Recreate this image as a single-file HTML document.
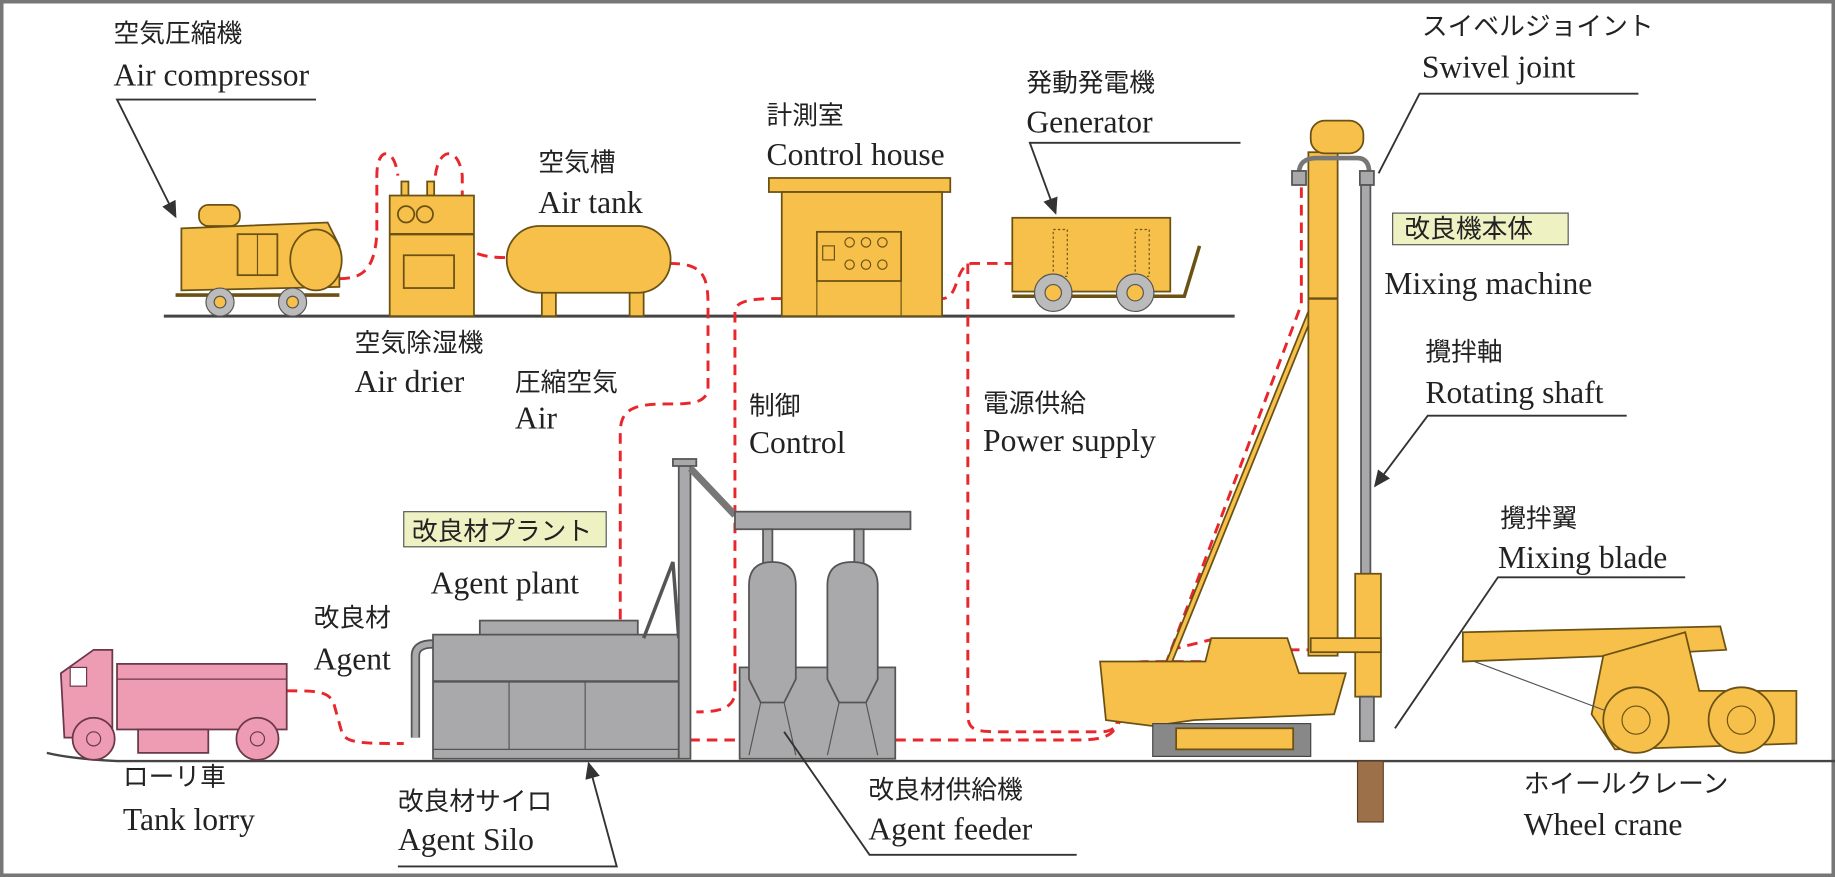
<!DOCTYPE html>
<html><head><meta charset="utf-8"><style>
html,body{margin:0;padding:0;background:#fff;}
svg{display:block;}
.j{font-family:"Liberation Sans","Noto Sans CJK JP",sans-serif;font-size:22px;fill:#222;}
.e{font-family:"Liberation Serif","Noto Serif CJK SC",serif;font-size:27px;fill:#222;}
.y{fill:#f6c04a;stroke:#6b5214;stroke-width:1.5;}
.g{fill:#a9a9ab;stroke:#555;stroke-width:1.5;}
.p{fill:#ee9bb4;stroke:#6a3848;stroke-width:1.5;}
.r{fill:none;stroke:#e8262b;stroke-width:2.5;stroke-dasharray:9 6;}
.l{fill:none;stroke:#333;stroke-width:1.6;}
</style></head><body>
<svg width="1835" height="877" viewBox="0 0 1568 749" preserveAspectRatio="none" xmlns="http://www.w3.org/2000/svg">
<defs><marker id="a" markerWidth="10" markerHeight="10" refX="8" refY="5" orient="auto"><path d="M0,1 L9,5 L0,9 z" fill="#333"/></marker></defs>
<rect x="1.5" y="1.5" width="1565" height="746" fill="#fff" stroke="#777" stroke-width="3"/>
<line x1="140" y1="270" x2="1055" y2="270" stroke="#444" stroke-width="2.5"/>
<path d="M40,643 Q60,648 100,650 L1568,650" stroke="#444" stroke-width="2" fill="none"/>
<path class="r" d="M290,238 C310,238 320,230 322,200 L322,150 C322,125 337,125 340,150"/>
<path class="r" d="M372,150 C375,125 392,125 395,150 L395,200 C395,215 410,220 433,220"/>
<path class="r" d="M572,225 C600,225 605,235 605,260 L605,330 C605,345 590,345 570,345 C540,345 530,350 530,370 L530,620 C530,630 540,632 560,632 L632,632"/>
<path class="r" d="M668,255 C650,255 630,255 628,265 L628,590 C628,605 615,608 595,608"/>
<path class="r" d="M770,255 L805,255 C820,255 815,228 830,225 L865,225"/>
<path class="r" d="M827,225 L827,610 C827,625 835,625 860,625 L940,625 C955,625 960,615 960,600 L960,580 C960,570 965,565 980,565 L1040,565"/>
<path class="r" d="M765,632 L920,632 C950,632 955,625 955,610"/>
<path class="r" d="M1112,160 L1112,260 L980,610"/>
<path class="r" d="M1000,555 L1040,545 L1060,555 L1120,555 L1170,545"/>
<path class="r" d="M245,590 C270,590 280,590 285,600 L292,625 C295,635 310,635 345,635"/>
<rect class="y" x="170" y="175" width="35" height="18" rx="8"/>
<path class="y" d="M155,195 L280,190 L290,210 L290,245 L155,248 Z"/>
<ellipse class="y" cx="270" cy="222" rx="22" ry="26"/>
<rect x="203" y="200" width="34" height="35" fill="#f6c04a" stroke="#6b5214" stroke-width="1.5"/>
<line x1="220" y1="200" x2="220" y2="235" stroke="#6b5214"/>
<line x1="150" y1="252" x2="290" y2="252" stroke="#6b5214" stroke-width="3"/>
<circle cx="188" cy="258" r="12" fill="#bbb" stroke="#555"/><circle cx="188" cy="258" r="5" fill="#f6c04a" stroke="#555"/>
<circle cx="250" cy="258" r="12" fill="#bbb" stroke="#555"/><circle cx="250" cy="258" r="5" fill="#f6c04a" stroke="#555"/>
<rect class="y" x="343" y="155" width="6" height="12"/><rect class="y" x="365" y="155" width="6" height="12"/>
<rect class="y" x="333" y="167" width="72" height="103"/>
<line x1="333" y1="200" x2="405" y2="200" stroke="#6b5214" stroke-width="2"/>
<circle cx="347" cy="183" r="7" fill="none" stroke="#6b5214" stroke-width="1.5"/><circle cx="363" cy="183" r="7" fill="none" stroke="#6b5214" stroke-width="1.5"/>
<rect x="345" y="218" width="43" height="28" fill="none" stroke="#6b5214" stroke-width="1.5"/>
<rect class="y" x="463" y="245" width="12" height="25"/><rect class="y" x="538" y="245" width="12" height="25"/>
<rect class="y" x="433" y="193" width="140" height="57" rx="28"/>
<rect class="y" x="657" y="152" width="155" height="12"/>
<rect class="y" x="668" y="164" width="137" height="106"/>
<rect x="698" y="198" width="72" height="42" fill="#f6c04a" stroke="#6b5214" stroke-width="1.5"/>
<rect x="703" y="210" width="10" height="12" fill="none" stroke="#6b5214"/>
<g fill="none" stroke="#6b5214"><circle cx="726" cy="207" r="4"/><circle cx="740" cy="207" r="4"/><circle cx="754" cy="207" r="4"/><circle cx="726" cy="226" r="4"/><circle cx="740" cy="226" r="4"/><circle cx="754" cy="226" r="4"/></g>
<line x1="698" y1="240" x2="698" y2="270" stroke="#6b5214"/><line x1="770" y1="240" x2="770" y2="270" stroke="#6b5214"/>
<rect class="y" x="865" y="186" width="135" height="63"/>
<rect x="900" y="196" width="12" height="40" fill="none" stroke="#6b5214" stroke-dasharray="2 2"/>
<rect x="970" y="196" width="12" height="40" fill="none" stroke="#6b5214" stroke-dasharray="2 2"/>
<path d="M865,253 L1012,253 L1025,210" stroke="#6b5214" stroke-width="3" fill="none"/>
<circle cx="900" cy="250" r="16" fill="#bbb" stroke="#555"/><circle cx="900" cy="250" r="7" fill="#f6c04a" stroke="#555"/>
<circle cx="970" cy="250" r="16" fill="#bbb" stroke="#555"/><circle cx="970" cy="250" r="7" fill="#f6c04a" stroke="#555"/>
<line x1="1122" y1="262" x2="985" y2="600" stroke="#6b5214" stroke-width="6"/>
<line x1="1122" y1="262" x2="985" y2="600" stroke="#f6c04a" stroke-width="3"/>
<rect class="y" x="1118" y="130" width="25" height="430"/>
<line x1="1118" y1="255" x2="1143" y2="255" stroke="#6b5214" stroke-width="2"/>
<rect class="y" x="1120" y="103" width="45" height="28" rx="12"/>
<path d="M1110,148 Q1110,135 1125,135 L1160,135 Q1170,135 1170,148" stroke="#777" stroke-width="4" fill="none"/>
<rect class="g" x="1104" y="146" width="12" height="12"/><rect class="g" x="1162" y="146" width="12" height="12"/>
<rect class="g" x="1163" y="158" width="8" height="335"/>
<rect class="y" x="1158" y="490" width="22" height="105"/>
<rect class="y" x="1120" y="545" width="60" height="12"/>
<path class="y" d="M940,565 L1030,565 L1035,545 L1100,545 L1110,575 L1150,575 L1140,610 L1020,615 L985,620 L945,615 Z"/>
<rect x="985" y="618" width="135" height="28" fill="#888" stroke="#444"/>
<rect class="y" x="1005" y="622" width="100" height="18"/>
<rect class="g" x="1162" y="595" width="12" height="38"/>
<rect x="1160" y="650" width="22" height="52" fill="#9c7048" stroke="#5c3d22"/>
<path class="y" d="M1250,540 L1470,535 L1475,555 L1380,560 L1250,565 Z"/>
<path class="y" d="M1370,560 L1440,540 L1452,590 L1535,590 L1535,635 L1380,640 L1360,610 Z"/>
<line x1="1260" y1="565" x2="1380" y2="610" stroke="#555"/>
<circle cx="1398" cy="615" r="28" class="y"/><circle cx="1398" cy="615" r="12" fill="none" stroke="#6b5214"/>
<circle cx="1488" cy="615" r="28" class="y"/><circle cx="1488" cy="615" r="12" fill="none" stroke="#6b5214"/>
<path class="p" d="M52,575 L80,555 L96,555 L96,630 L55,630 Z"/>
<rect x="60" y="570" width="14" height="16" fill="#fff" stroke="#6a3848"/>
<rect class="p" x="100" y="567" width="145" height="56"/>
<line x1="100" y1="580" x2="245" y2="580" stroke="#6a3848"/>
<rect class="p" x="118" y="623" width="60" height="20"/>
<circle class="p" cx="80" cy="631" r="18"/><circle cx="80" cy="631" r="6" fill="none" stroke="#6a3848"/>
<circle class="p" cx="220" cy="631" r="18"/><circle cx="220" cy="631" r="6" fill="none" stroke="#6a3848"/>
<path d="M355,630 L355,560 Q355,550 370,550" stroke="#555" stroke-width="8" fill="none"/>
<path d="M355,630 L355,560 Q355,550 370,550" stroke="#a9a9ab" stroke-width="5" fill="none"/>
<rect class="g" x="410" y="530" width="135" height="14"/>
<rect class="g" x="370" y="542" width="210" height="106"/>
<line x1="370" y1="582" x2="580" y2="582" stroke="#555" stroke-width="2"/>
<line x1="435" y1="582" x2="435" y2="640" stroke="#555"/><line x1="500" y1="582" x2="500" y2="640" stroke="#555"/>
<line x1="370" y1="640" x2="580" y2="640" stroke="#555"/>
<path d="M550,545 L575,480 L580,545" fill="none" stroke="#555" stroke-width="3"/>
<rect class="g" x="580" y="395" width="10" height="253"/>
<rect class="g" x="575" y="392" width="20" height="6"/>
<line x1="590" y1="400" x2="628" y2="440" stroke="#777" stroke-width="6"/>
<rect class="g" x="628" y="437" width="150" height="15"/>
<rect class="g" x="632" y="570" width="133" height="78"/>
<rect class="g" x="652" y="452" width="8" height="30"/><rect class="g" x="730" y="452" width="8" height="30"/>
<path class="g" d="M640,500 Q640,480 660,480 Q680,480 680,500 L680,580 L670,600 L650,600 L640,580 Z"/>
<path class="g" d="M707,500 Q707,480 728,480 Q750,480 750,500 L750,580 L740,600 L717,600 L707,580 Z"/>
<path d="M650,600 L640,645 M670,600 L680,645 M717,600 L707,645 M740,600 L750,645" stroke="#555" fill="none"/>
<path class="l" d="M270,85 L100,85 L150,185" marker-end="url(#a)"/>
<path class="l" d="M1060,122 L880,122 L902,182" marker-end="url(#a)"/>
<path class="l" d="M1400,80 L1213,80 L1178,148"/>
<path class="l" d="M1390,355 L1220,355 L1175,415" marker-end="url(#a)"/>
<path class="l" d="M1440,493 L1280,493 L1192,622"/>
<path class="l" d="M340,740 L527,740 L503,652" marker-end="url(#a)"/>
<path class="l" d="M920,730 L743,730 L670,625"/>
<rect x="1190" y="182" width="150" height="27" fill="#eef2c2" stroke="#555"/>
<rect x="345" y="437" width="173" height="30" fill="#eef2c2" stroke="#555"/>
<text class="j" x="97" y="36">空気圧縮機</text><text class="e" x="97" y="73">Air compressor</text>
<text class="j" x="303" y="300">空気除湿機</text><text class="e" x="303" y="335">Air drier</text>
<text class="j" x="440" y="334">圧縮空気</text><text class="e" x="440" y="366">Air</text>
<text class="j" x="460" y="146">空気槽</text><text class="e" x="460" y="182">Air tank</text>
<text class="j" x="655" y="106">計測室</text><text class="e" x="655" y="141">Control house</text>
<text class="j" x="877" y="78">発動発電機</text><text class="e" x="877" y="113">Generator</text>
<text class="j" x="1215" y="30">スイベルジョイント</text><text class="e" x="1215" y="66">Swivel joint</text>
<text class="j" x="1200" y="203">改良機本体</text><text class="e" x="1183" y="251">Mixing machine</text>
<text class="j" x="1218" y="308">攪拌軸</text><text class="e" x="1218" y="344">Rotating shaft</text>
<text class="j" x="1282" y="450">攪拌翼</text><text class="e" x="1280" y="485">Mixing blade</text>
<text class="j" x="640" y="354">制御</text><text class="e" x="640" y="387">Control</text>
<text class="j" x="840" y="352">電源供給</text><text class="e" x="840" y="385">Power supply</text>
<text class="j" x="352" y="461">改良材プラント</text><text class="e" x="368" y="507">Agent plant</text>
<text class="j" x="268" y="535">改良材</text><text class="e" x="268" y="572">Agent</text>
<text class="j" x="105" y="671">ローリ車</text><text class="e" x="105" y="709">Tank lorry</text>
<text class="j" x="340" y="692">改良材サイロ</text><text class="e" x="340" y="726">Agent Silo</text>
<text class="j" x="742" y="682">改良材供給機</text><text class="e" x="742" y="717">Agent feeder</text>
<text class="j" x="1302" y="677">ホイールクレーン</text><text class="e" x="1302" y="713">Wheel crane</text>
</svg>
</body></html>
